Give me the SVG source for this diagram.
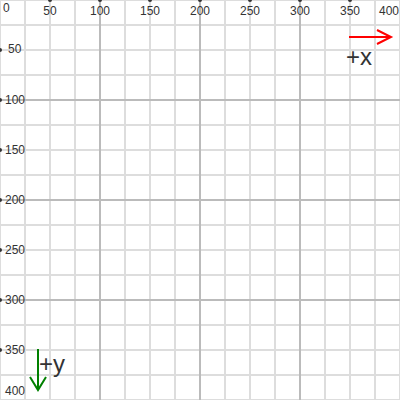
<svg xmlns="http://www.w3.org/2000/svg" width="400" height="400" viewBox="0 0 400 400">
<style>
.minor{stroke:#dddddd;stroke-width:2}
.major{stroke:#bbbbbb;stroke-width:2}
.lbl{font-family:"Liberation Sans",Arial,sans-serif;font-size:12px;fill:#333}
.big{font-family:"Liberation Sans",Arial,sans-serif;font-size:24px;fill:#333}
.dot{fill:#333}
</style>
<rect width="400" height="400" fill="#fff"/>
<g id="grid">
<path class="minor" d="M0 0V400M25 0V400M50 0V400M75 0V400M125 0V400M150 0V400M175 0V400M225 0V400M250 0V400M275 0V400M325 0V400M350 0V400M375 0V400M400 0V400"/>
<path class="minor" d="M0 0H400M0 25H400M0 50H400M0 75H400M0 125H400M0 150H400M0 175H400M0 225H400M0 250H400M0 275H400M0 325H400M0 350H400M0 375H400M0 400H400"/>
<path class="major" d="M100 0V400M200 0V400M300 0V400M0 100H400M0 200H400M0 300H400"/>
</g>
<g id="xlabels">
<text class="lbl" x="3" y="12">0</text>
<text class="lbl" x="50" y="15" text-anchor="middle">50</text>
<text class="lbl" x="100" y="15" text-anchor="middle">100</text>
<text class="lbl" x="150" y="15" text-anchor="middle">150</text>
<text class="lbl" x="200" y="15" text-anchor="middle">200</text>
<text class="lbl" x="250" y="15" text-anchor="middle">250</text>
<text class="lbl" x="300" y="15" text-anchor="middle">300</text>
<text class="lbl" x="350" y="15" text-anchor="middle">350</text>
<text class="lbl" x="389" y="15" text-anchor="middle">400</text>
<circle class="dot" cx="50" cy="0" r="2"/>
<circle class="dot" cx="100" cy="0" r="2"/>
<circle class="dot" cx="150" cy="0" r="2"/>
<circle class="dot" cx="200" cy="0" r="2"/>
<circle class="dot" cx="250" cy="0" r="2"/>
<circle class="dot" cx="300" cy="0" r="2"/>
<circle class="dot" cx="350" cy="0" r="2"/>
</g>
<g id="ylabels">
<text class="lbl" x="8" y="53">50</text>
<text class="lbl" x="5" y="104">100</text>
<text class="lbl" x="5" y="154">150</text>
<text class="lbl" x="5" y="204">200</text>
<text class="lbl" x="5" y="254">250</text>
<text class="lbl" x="5" y="304">300</text>
<text class="lbl" x="5" y="354">350</text>
<text class="lbl" x="5" y="395">400</text>
<circle class="dot" cx="0" cy="50" r="2"/>
<circle class="dot" cx="0" cy="100" r="2"/>
<circle class="dot" cx="0" cy="150" r="2"/>
<circle class="dot" cx="0" cy="200" r="2"/>
<circle class="dot" cx="0" cy="250" r="2"/>
<circle class="dot" cx="0" cy="300" r="2"/>
<circle class="dot" cx="0" cy="350" r="2"/>
</g>
<g id="xaxis">
<path d="M349 37H391M377 30L391 37L377 44" fill="none" stroke="#ff0000" stroke-width="2"/>
<text class="big" x="346" y="65">+x</text>
</g>
<g id="yaxis">
<path d="M38 349V390M30 377L38 390L46 377" fill="none" stroke="#008000" stroke-width="2"/>
<text class="big" x="39" y="372">+y</text>
</g>
</svg>
